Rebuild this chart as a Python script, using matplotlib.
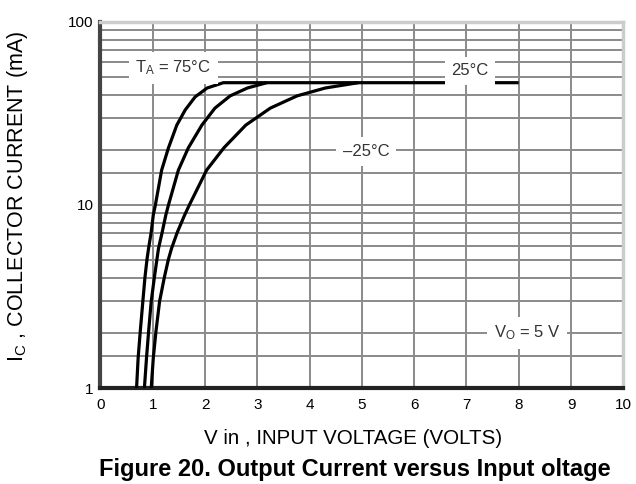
import numpy as np
import matplotlib
matplotlib.use("Agg")
import matplotlib.pyplot as plt
from matplotlib.ticker import FixedLocator, NullFormatter

plt.rcParams['font.family'] = ['Liberation Sans', 'DejaVu Sans']
plt.rcParams['mathtext.default'] = 'regular'

# collector current (mA) vs input voltage (V)
ic_75 = [1, 1.46, 2.03, 2.97, 4.01, 5.06, 5.8, 7.1, 8.82, 10, 15.5, 20.5, 27.3, 33.0, 38.9, 43.5, 46.5, 46.5]
vin_75 = [0.69, 0.72, 0.76, 0.81, 0.85, 0.89, 0.92, 0.97, 1.01, 1.05, 1.17, 1.30, 1.46, 1.62, 1.81, 2.04, 2.35, 8.0]

ic_25 = [1, 1.46, 2.03, 2.97, 4.01, 5.06, 5.8, 7.1, 8.82, 10, 15.5, 20.5, 27.3, 33.8, 39.4, 43.5, 46.5]
vin_25 = [0.84, 0.88, 0.92, 0.97, 1.03, 1.08, 1.11, 1.18, 1.25, 1.30, 1.49, 1.68, 1.94, 2.19, 2.48, 2.81, 3.18]

ic_m25 = [1, 1.46, 2.03, 2.97, 4.01, 5.06, 5.8, 7.1, 8.82, 10, 15.5, 20.5, 27.3, 33.8, 39.4, 43.5, 46.5]
vin_m25 = [0.97, 1.01, 1.06, 1.13, 1.22, 1.30, 1.36, 1.47, 1.61, 1.70, 2.03, 2.36, 2.78, 3.25, 3.76, 4.30, 4.93]

xticks = list(range(0, 11))
yticks = [1, 10, 100]
yminor = [1.5, 2, 3, 4, 5, 6, 7, 8, 9, 15, 20, 30, 40, 50, 60, 70, 80, 90]

fig = plt.figure(figsize=(6.36, 4.84), dpi=100)
ax = fig.add_axes([0.158, 0.198, 0.822, 0.757])

ax.set_yscale('log')
ax.set_xlim(0, 10)
ax.set_ylim(1, 100)
ax.set_xticks(xticks)
ax.set_yticks(yticks)
ax.set_yticklabels([str(t) for t in yticks])
ax.yaxis.set_minor_locator(FixedLocator(yminor))
ax.yaxis.set_minor_formatter(NullFormatter())
ax.tick_params(which='both', length=0, labelsize=11)
ax.tick_params(axis='x', pad=7)
ax.tick_params(axis='y', pad=5)

gcol = '#8a8a8a'
ax.grid(True, which='major', color=gcol, lw=1.4)
ax.grid(True, which='minor', axis='y', color=gcol, lw=1.4)
ax.set_axisbelow(True)

for v, i in ((vin_75, ic_75), (vin_25, ic_25), (vin_m25, ic_m25)):
    ax.plot(v, i, color='black', lw=2.3, solid_joinstyle='round', solid_capstyle='butt', zorder=4)

ax.spines['left'].set_color('#444444')
ax.spines['left'].set_linewidth(3)
ax.spines['bottom'].set_color('#222222')
ax.spines['bottom'].set_linewidth(3)
ax.spines['top'].set_color('#cccccc')
ax.spines['top'].set_linewidth(2.5)
ax.spines['right'].set_color('#cccccc')
ax.spines['right'].set_linewidth(2.5)

box = dict(facecolor='white', edgecolor='none', boxstyle='square,pad=0.4')
tc = '#333333'
ax.text(1.39, 56, r'T$_A$ = 75°C', fontsize=12, color=tc, ha='center', va='center', bbox=box, zorder=5)
ax.text(7.07, 54, '25°C', fontsize=12, color=tc, ha='center', va='center', bbox=box, zorder=5)
ax.text(5.08, 19.6, '\u201325°C', fontsize=12, color=tc, ha='center', va='center', bbox=box, zorder=5)
ax.text(8.16, 2.0, r'V$_O$ = 5 V', fontsize=12, color=tc, ha='center', va='center', bbox=box, zorder=5)

fig.text(0.555, 0.095, 'V in , INPUT VOLTAGE (VOLTS)', fontsize=14.8, ha='center', va='center')
fig.text(0.027, 0.595, r'I$_C$ , COLLECTOR CURRENT (mA)', fontsize=15.5, ha='center', va='center',
         rotation=90)
fig.text(0.558, 0.029, 'Figure 20. Output Current versus Input oltage',
         fontsize=17, fontweight='bold', ha='center', va='center')

fig.savefig('out.png', dpi=100)
